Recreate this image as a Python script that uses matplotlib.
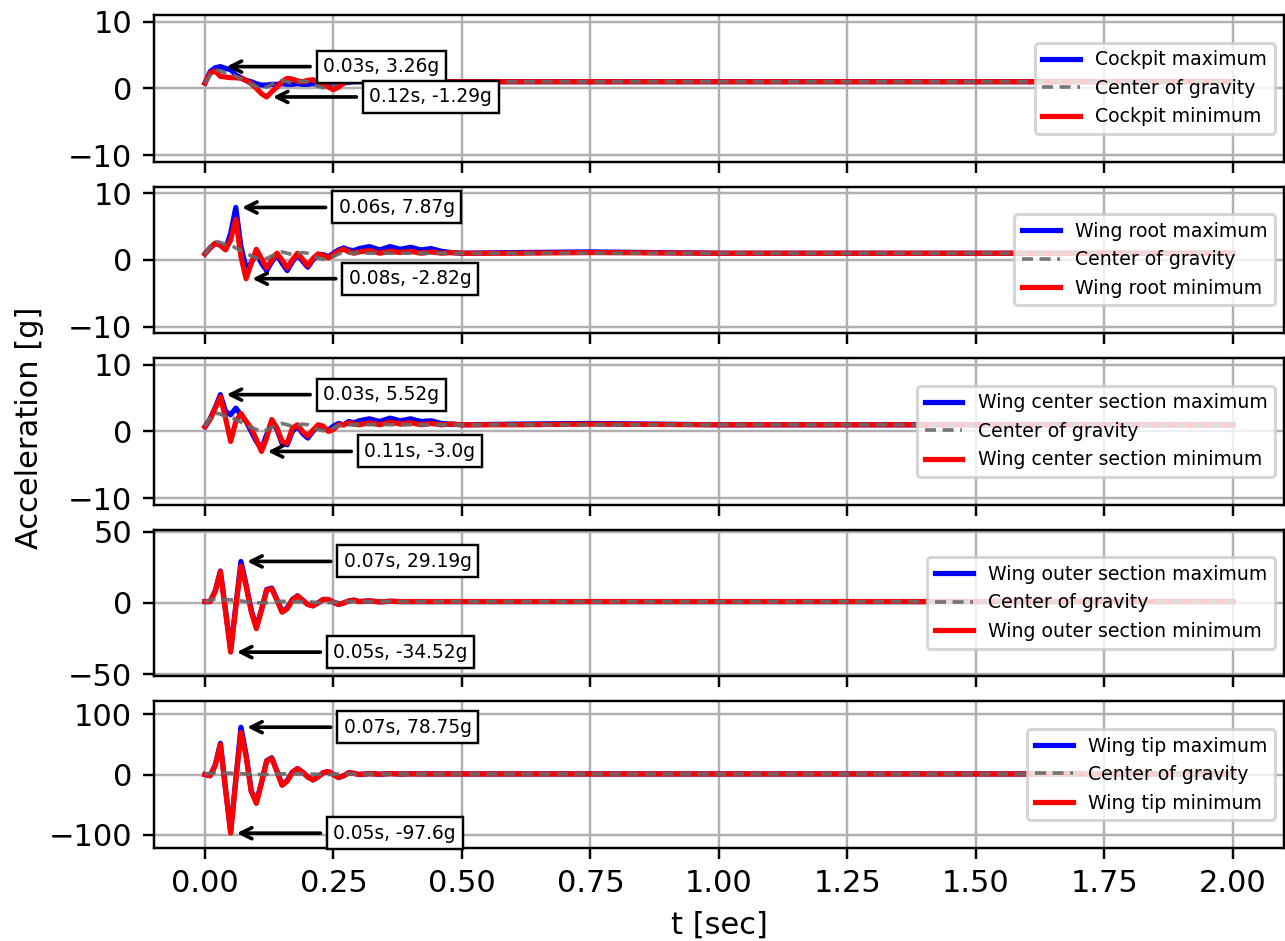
import numpy as np
import matplotlib
matplotlib.use("Agg")
import matplotlib.pyplot as plt

# Time grid: fine steps during the gust response, coarser afterwards
t_fast = [0.00, 0.01, 0.02, 0.03, 0.04, 0.05, 0.06, 0.07, 0.08, 0.09,
          0.10, 0.11, 0.12, 0.13, 0.14, 0.15, 0.16, 0.17, 0.18, 0.19,
          0.20, 0.21, 0.22, 0.23, 0.24, 0.25, 0.26, 0.27, 0.28, 0.29, 0.30]
t_mid = [0.32, 0.34, 0.36, 0.38, 0.40, 0.42, 0.44, 0.46, 0.48, 0.50]
t_slow = [0.60, 0.75, 1.00, 1.25, 1.50, 1.75, 2.00]
t = np.array(t_fast + t_mid + t_slow)

# Center of gravity acceleration [g]
cog = [0.8, 2.0, 2.8, 2.6, 2.3, 2.2, 1.8, 1.4, 1.0, 0.6,
       0.3, 0.0, 0.2, 0.6, 1.0, 1.2, 1.0, 0.8, 0.9, 1.1,
       1.0, 0.6, 0.3, 0.1, 0.2, 0.5, 0.9, 1.1, 1.0, 1.0, 1.1,
       1.0, 1.1, 1.0, 1.0, 1.0, 1.0, 1.0, 1.0, 1.0, 1.0,
       1.0, 1.0, 1.0, 1.0, 1.0, 1.0, 1.0]

# Cockpit
cockpit_max = [0.8, 2.5, 3.1, 3.26, 3.0, 2.8, 2.0, 1.6, 1.2, 1.0,
               0.7, 0.5, 0.5, 0.6, 0.6, 0.7, 0.6, 0.6, 0.7, 0.6,
               0.6, 0.7, 0.6, 0.5, 0.5, 0.4, 0.5, 0.8, 0.9, 1.0, 1.0,
               0.9, 1.0, 0.9, 1.0, 0.9, 1.0, 0.9, 1.0, 1.0, 1.0,
               1.0, 1.0, 1.0, 1.0, 1.0, 1.0, 1.0]
cockpit_min = [0.8, 2.3, 2.6, 1.8, 1.7, 1.6, 1.6, 1.5, 1.2, 0.7,
               0.0, -0.8, -1.29, -0.5, 0.2, 1.0, 1.5, 1.4, 1.1, 1.0,
               1.2, 1.3, 0.9, 0.6, 0.2, -0.2, 0.2, 0.8, 1.1, 1.3, 1.2,
               1.0, 1.2, 1.0, 1.1, 1.0, 1.1, 1.0, 1.0, 1.0, 1.0,
               1.0, 1.0, 1.0, 1.0, 1.0, 1.0, 1.0]

# Wing root
root_max = [0.9, 1.8, 2.5, 2.2, 1.6, 4.0, 7.87, 2.0, -1.2, -0.5,
            1.0, -0.5, -1.6, -0.3, 0.8, -0.5, -1.6, -0.3, 0.8, -0.2,
            -1.1, 0.0, 0.8, 0.8, 0.5, 1.0, 1.5, 1.8, 1.5, 1.4, 1.7,
            2.0, 1.5, 2.0, 1.6, 1.9, 1.5, 1.7, 1.3, 1.1, 1.0,
            1.1, 1.2, 1.0, 1.0, 1.0, 1.0, 1.0]
root_min = [0.9, 1.8, 2.5, 2.2, 1.5, 3.0, 6.1, 0.5, -2.82, -0.5,
            1.6, 0.2, -1.2, 0.0, 1.0, 0.0, -1.2, 0.0, 1.0, 0.1,
            -0.9, 0.2, 0.9, 0.7, 0.3, 0.8, 1.3, 1.6, 1.2, 1.0, 1.2,
            1.4, 1.0, 1.3, 1.1, 1.3, 1.0, 1.2, 1.0, 1.1, 1.0,
            1.0, 1.1, 1.0, 1.0, 1.0, 1.0, 1.0]

# Wing center section
center_max = [0.7, 1.9, 3.6, 5.52, 3.0, 2.5, 3.5, 2.5, 1.5, 0.0,
              -1.5, -2.6, -0.5, 1.5, 0.3, -1.8, -2.0, 0.0, 0.8, -0.3,
              -1.0, 0.0, 0.8, 0.6, 0.2, 0.8, 1.2, 1.0, 1.5, 1.3, 1.6,
              1.9, 1.5, 2.0, 1.6, 1.9, 1.5, 1.6, 1.2, 1.1, 1.0,
              1.1, 1.2, 1.0, 1.0, 1.0, 1.0, 1.0]
center_min = [0.7, 1.8, 3.5, 5.2, 2.0, -1.5, 1.5, 2.7, 1.5, 0.5,
              -1.2, -3.0, -1.0, 1.8, 0.5, -1.5, -1.8, 0.5, 1.0, 0.0,
              -0.7, 0.2, 1.0, 0.8, 0.0, 0.3, 1.0, 1.0, 1.3, 1.1, 1.0,
              1.3, 1.0, 1.4, 1.1, 1.3, 1.0, 1.2, 1.0, 1.1, 1.0,
              1.0, 1.1, 1.0, 1.0, 1.0, 1.0, 1.0]

# Wing outer section
outer_max = [1.0, 1.0, 8.5, 22.5, -5.0, -33.0, -2.0, 29.19, 13.0, -5.0,
             -17.0, -4.5, 9.5, 10.5, 2.5, -6.0, -3.5, 2.5, 5.0, 2.0,
             -1.0, -2.0, 0.0, 2.5, 2.5, 0.5, -1.0, 0.0, 1.5, 2.0, 1.0,
             1.5, 0.8, 1.2, 1.0, 1.0, 1.0, 1.0, 1.0, 1.0, 1.0,
             1.0, 1.0, 1.0, 1.0, 1.0, 1.0, 1.0]
outer_min = [1.0, 1.0, 8.0, 22.0, -6.0, -34.52, -3.0, 26.0, 12.0, -6.0,
             -18.0, -5.0, 9.0, 10.0, 2.0, -6.5, -4.0, 2.0, 5.0, 2.0,
             -1.0, -2.0, 0.0, 2.5, 2.5, 0.5, -1.0, 0.0, 1.5, 2.0, 1.0,
             1.5, 0.8, 1.2, 1.0, 1.0, 1.0, 1.0, 1.0, 1.0, 1.0,
             1.0, 1.0, 1.0, 1.0, 1.0, 1.0, 1.0]

# Wing tip
tip_max = [0.0, -2.0, 16.0, 52.0, -23.0, -95.0, -8.0, 78.75, 33.0, -27.0,
           -46.0, -13.0, 23.0, 28.0, 6.0, -17.0, -10.0, 4.0, 10.0, 4.0,
           -4.0, -9.0, -4.0, 3.0, 5.0, 0.0, -5.0, -2.0, 3.0, 2.0, 0.0,
           1.5, 0.5, 1.5, 0.8, 1.2, 1.0, 1.0, 1.0, 1.0, 1.0,
           1.0, 1.0, 1.0, 1.0, 1.0, 1.0, 1.0]
tip_min = [0.0, -2.0, 15.0, 50.0, -25.0, -97.6, -10.0, 70.0, 30.0, -28.0,
           -48.0, -14.0, 22.0, 27.0, 5.0, -18.0, -11.0, 3.0, 10.0, 4.0,
           -4.0, -9.0, -4.0, 3.0, 5.0, 0.0, -5.0, -2.0, 3.0, 2.0, 0.0,
           1.5, 0.5, 1.5, 0.8, 1.2, 1.0, 1.0, 1.0, 1.0, 1.0,
           1.0, 1.0, 1.0, 1.0, 1.0, 1.0, 1.0]

locations = ["Cockpit", "Wing root", "Wing center section",
             "Wing outer section", "Wing tip"]
max_series = [cockpit_max, root_max, center_max, outer_max, tip_max]
min_series = [cockpit_min, root_min, center_min, outer_min, tip_min]

# Annotated extremes: (time [s], acceleration [g])
peak_max = [(0.03, 3.26), (0.06, 7.87), (0.03, 5.52), (0.07, 29.19), (0.07, 78.75)]
peak_min = [(0.12, -1.29), (0.08, -2.82), (0.11, -3.0), (0.05, -34.52), (0.05, -97.6)]

y_limits = [(-11, 11), (-11, 11), (-11, 11), (-51.5, 51.5), (-122, 122)]
y_ticks = [[-10, 0, 10], [-10, 0, 10], [-10, 0, 10], [-50, 0, 50], [-100, 0, 100]]

fig, axes = plt.subplots(5, 1, sharex=True, figsize=(1285 / 220, 941 / 220), dpi=220)
fig.subplots_adjust(left=0.1195, right=0.9995, top=0.984, bottom=0.099, hspace=0.17)

box = dict(boxstyle="square,pad=0.35", fc="white", ec="black", lw=0.8)
arrow = dict(arrowstyle="->", color="black", lw=1.2, mutation_scale=9)

for i, ax in enumerate(axes):
    h_max, = ax.plot(t, max_series[i], color="blue", lw=1.7,
                     label=f"{locations[i]} maximum")
    h_min, = ax.plot(t, min_series[i], color="red", lw=1.7,
                     label=f"{locations[i]} minimum")
    h_cog, = ax.plot(t, cog, color="dimgray", ls=(0, (3.0, 1.8)), lw=1.2,
                     alpha=0.9, label="Center of gravity")
    ax.grid(True)
    ax.set_ylim(*y_limits[i])
    ax.set_yticks(y_ticks[i])
    ax.legend(handles=[h_max, h_cog, h_min], loc="center right", fontsize=6.2)

    for tp, val in (peak_max[i], peak_min[i]):
        ax.annotate(f"{tp}s, {val}g", xy=(tp, val), xytext=(tp + 0.2, val),
                    textcoords="data", va="center", fontsize=6.1,
                    bbox=box, arrowprops=arrow)

axes[-1].set_xlim(-0.1, 2.1)
axes[-1].set_xticks([0.0, 0.25, 0.5, 0.75, 1.0, 1.25, 1.5, 1.75, 2.0])
axes[-1].set_xlabel("t [sec]")
fig.text(0.023, 0.545, "Acceleration [g]", rotation=90, va="center", ha="center",
         fontsize=10)

fig.savefig("out.png", dpi=220)
